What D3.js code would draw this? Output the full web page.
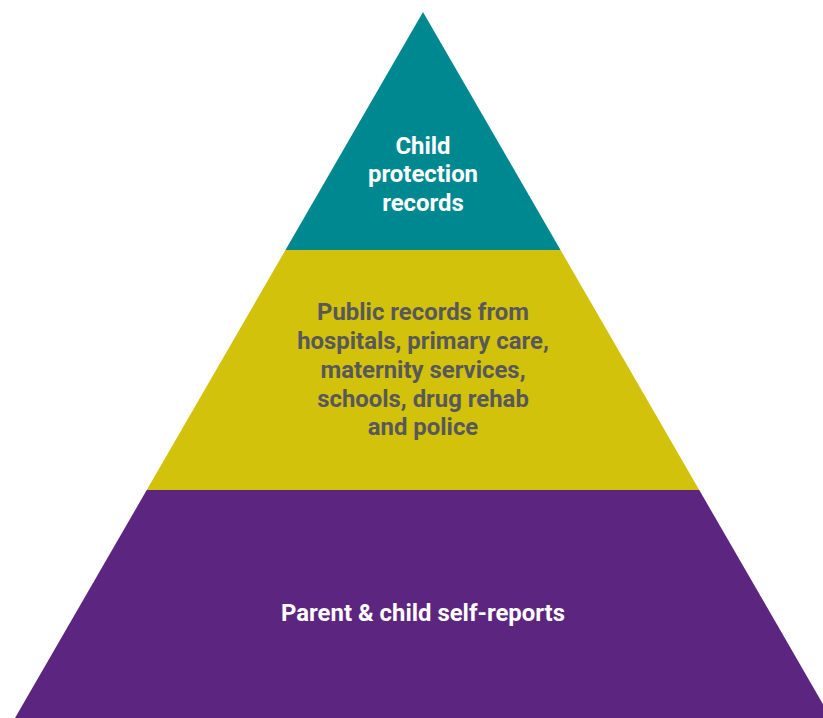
<!DOCTYPE html>
<html>
<head>
<meta charset="utf-8">
<script src="https://cdn.jsdelivr.net/npm/d3@7"></script>
<style>
  body { margin: 0; background: #fff; }
  svg { display: block; }
</style>
</head>
<body>
<svg id="chart" width="823" height="718"></svg>
<script>
// tiers of the pyramid, top to bottom
var tierNames = ["protection", "public", "self"];
var tierLabels = [
    ["Child", "protection", "records"],
    ["Public records from", "hospitals, primary care,", "maternity services,", "schools, drug rehab", "and police"],
    ["Parent & child self-reports"]
];
// tier boundaries as share of pyramid height (0 = apex, 1 = base)
var tierStart = [0, 0.3371, 0.6771];
var tierEnd = [0.3371, 0.6771, 1];
var tierColors = ["#008891", "#d2c20b", "#5c2580"];
var textColors = ["#ffffff", "#58585a", "#ffffff"];

var svg = d3.select("#chart");

var apexX = 423, apexY = 12, baseY = 718, halfBase = 408;

var y = d3.scaleLinear().domain([0, 1]).range([apexY, baseY]);
var halfW = d3.scaleLinear().domain([0, 1]).range([0, halfBase]);

var tiers = tierNames.map(function(n, i) {
    return { name: n, lines: tierLabels[i], t0: tierStart[i], t1: tierEnd[i], fill: tierColors[i], color: textColors[i] };
});

svg.selectAll("path.tier")
    .data(tiers)
    .enter()
    .append("path")
    .attr("class", "tier")
    .attr("fill", function(d) { return d.fill; })
    .attr("d", function(d) {
        var p = d3.path();
        p.moveTo(apexX - halfW(d.t0), y(d.t0));
        p.lineTo(apexX + halfW(d.t0), y(d.t0));
        p.lineTo(apexX + halfW(d.t1), y(d.t1));
        p.lineTo(apexX - halfW(d.t1), y(d.t1));
        p.closePath();
        return p.toString();
    });

var lineH = 28.7;
var labelY = [174, 369.5, 613];

var labels = svg.selectAll("text.label")
    .data(tiers)
    .enter()
    .append("text")
    .attr("class", "label")
    .attr("text-anchor", "middle")
    .attr("font-family", "Roboto, sans-serif")
    .attr("font-weight", "bold")
    .attr("font-size", 23.9)
    .attr("fill", function(d) { return d.color; });

labels.each(function(d, i) {
    var n = d.lines.length;
    d3.select(this).selectAll("tspan")
        .data(d.lines)
        .enter()
        .append("tspan")
        .attr("x", apexX)
        .attr("y", function(l, j) { return labelY[i] + (j - (n - 1) / 2) * lineH; })
        .attr("dy", "0.35em")
        .text(function(l) { return l; });
});
</script>
</body>
</html>
